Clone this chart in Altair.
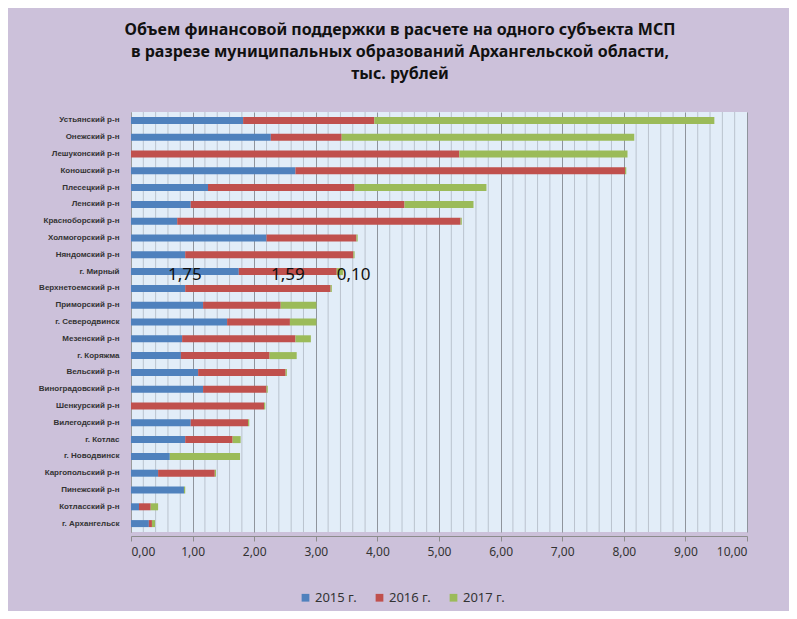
import altair as alt
import pandas as pd
import numpy as np

categories = [
    "Устьянский р-н", "Онежский р-н", "Лешуконский р-н", "Коношский р-н",
    "Плесецкий р-н", "Ленский р-н", "Красноборский р-н", "Холмогорский р-н",
    "Няндомский р-н", "г. Мирный", "Верхнетоемский р-н", "Приморский р-н",
    "г. Северодвинск", "Мезенский р-н", "г. Коряжма", "Вельский р-н",
    "Виноградовский р-н", "Шенкурский р-н", "Вилегодский р-н", "г. Котлас",
    "г. Новодвинск", "Каргопольский р-н", "Пинежский р-н", "Котласский р-н",
    "г. Архангельск",
]
v2015 = [1.82, 2.27, 0.00, 2.67, 1.25, 0.97, 0.75, 2.20, 0.88, 1.75, 0.88, 1.17,
         1.56, 0.83, 0.81, 1.09, 1.17, 0.00, 0.97, 0.88, 0.63, 0.44, 0.86, 0.13, 0.29]
v2016 = [2.13, 1.15, 5.33, 5.35, 2.38, 3.47, 4.60, 1.46, 2.73, 1.59, 2.36, 1.26,
         1.02, 1.84, 1.44, 1.42, 1.03, 2.16, 0.93, 0.77, 0.00, 0.92, 0.00, 0.19, 0.05]
v2017 = [5.52, 4.75, 2.73, 0.02, 2.14, 1.12, 0.02, 0.02, 0.02, 0.10, 0.02, 0.58,
         0.43, 0.25, 0.44, 0.02, 0.02, 0.02, 0.02, 0.13, 1.14, 0.02, 0.02, 0.12, 0.05]
years = ["2015 г.", "2016 г.", "2017 г."]
colors = ["#4F81BD", "#C0504D", "#9BBB59"]
labelled = "г. Мирный"
x_ticks = list(range(0, 11))
minor_ticks = [round(v, 1) for v in np.arange(0.2, 10.0, 0.2) if abs(v - round(v)) > 1e-6]

rows = []
for i, c in enumerate(categories):
    start = 0.0
    for k, (yr, vals) in enumerate(zip(years, [v2015, v2016, v2017])):
        val = vals[i]
        rows.append({"cat": c, "year": yr, "order": k, "value": val,
                     "start": start, "end": start + val})
        start += val
df = pd.DataFrame(rows)

lab = df[df["cat"] == labelled].copy()
lab["txt"] = lab["value"].map(lambda v: f"{v:.2f}".replace(".", ","))
lab["pos"] = np.where(lab["order"] < 2, (lab["start"] + lab["end"]) / 2, lab["start"])

xscale = alt.Scale(domain=[0, 10], nice=False, zero=True)
yenc = alt.Y("cat:N", sort=categories, title=None,
             scale=alt.Scale(paddingInner=0.58, paddingOuter=0.29),
             axis=alt.Axis(labelFont="Liberation Sans", labelFontSize=8,
                           labelFontWeight="bold", labelColor="#333333",
                           labelPadding=12, ticks=False, domainColor="#9A9A9A"))

minor = alt.Chart(pd.DataFrame({"m": minor_ticks})).mark_rule(
    color="#BAC3CE", strokeWidth=1).encode(x=alt.X("m:Q", scale=xscale))

bars = alt.Chart(df).mark_bar(size=7).encode(
    x=alt.X("start:Q", scale=xscale, title=None,
            axis=alt.Axis(values=x_ticks,
                          labelExpr="replace(format(datum.value, '.2f'), '.', ',')",
                          labelFont="Noto Sans", labelFontSize=12, labelColor="#333333",
                          grid=True, gridColor="#8F949C", domainColor="#8C8C8C",
                          tickColor="#8C8C8C", tickSize=5, offset=4, labelPadding=5)),
    x2="end:Q",
    y=yenc,
    color=alt.Color("year:N", scale=alt.Scale(domain=years, range=colors),
                    legend=alt.Legend(orient="none", legendX=168, legendY=479,
                                      direction="horizontal", title=None,
                                      symbolType="square", symbolSize=60,
                                      symbolStrokeWidth=0,
                                      labelFont="Noto Sans", labelFontSize=13,
                                      labelColor="#333333", columnPadding=16,
                                      labelOffset=3)),
    order=alt.Order("order:Q"),
)

lab_c = alt.Chart(lab[lab["order"] < 2]).mark_text(
    font="Noto Sans", fontSize=17, color="#111111", baseline="middle", dy=3,
    align="center").encode(x=alt.X("pos:Q", scale=xscale),
                           y=alt.Y("cat:N", sort=categories), text="txt:N")
lab_l = alt.Chart(lab[lab["order"] == 2]).mark_text(
    font="Noto Sans", fontSize=17, color="#111111", baseline="middle", dy=3,
    align="left", dx=0).encode(x=alt.X("pos:Q", scale=xscale),
                               y=alt.Y("cat:N", sort=categories), text="txt:N")

chart = alt.layer(minor, bars, lab_c, lab_l).properties(
    width=616, height=420,
    title=alt.TitleParams(
        ["Объем финансовой поддержки в расчете на одного субъекта МСП",
         "в разрезе муниципальных образований  Архангельской области,",
         "тыс. рублей"],
        font="Noto Sans", fontSize=16, fontWeight="bold", color="#111111",
        lineHeight=22, anchor="middle", dx=-39, offset=30),
    autosize=alt.AutoSizeParams(type="none"),
    padding={"left": 123, "top": 104, "right": 42, "bottom": 79},
    background="#CCC1DA",
).configure_view(fill="#E2EDF8", stroke=None)

chart.save("out.html", embed_options={"renderer": "svg", "actions": False})
